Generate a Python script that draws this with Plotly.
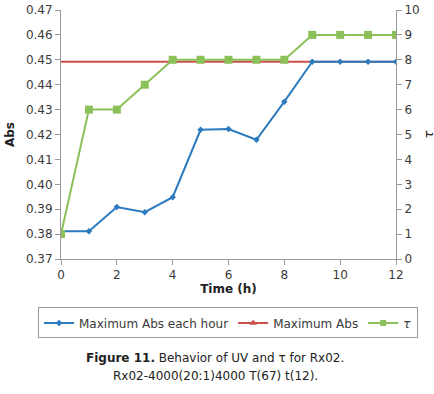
import plotly.graph_objects as go

time_h = [0, 1, 2, 3, 4, 5, 6, 7, 8, 9, 10, 11, 12]
abs_each_hour = [0.3811, 0.3811, 0.3909, 0.3888, 0.3948, 0.4219, 0.4222, 0.4179, 0.4332, 0.4492, 0.4492, 0.4492, 0.4492]
abs_max = [0.4492] * 13
tau = [1, 6, 6, 7, 8, 8, 8, 8, 8, 9, 9, 9, 9]

BLUE = "#2C7BBF"
RED = "#C9504C"
GREEN = "#8CC15A"
FONT = "DejaVu Sans"
TXT = "#3a3a3a"

fig = go.Figure()
fig.add_trace(go.Scatter(x=time_h, y=abs_max, mode="lines", line=dict(color=RED, width=2),
                         showlegend=False, yaxis="y"))
fig.add_trace(go.Scatter(x=time_h, y=tau, mode="lines+markers", name="τ",
                         line=dict(color=GREEN, width=2),
                         marker=dict(symbol="square", size=8, color=GREEN),
                         yaxis="y2", showlegend=False))
fig.add_trace(go.Scatter(x=time_h, y=abs_each_hour, mode="lines+markers", name="Maximum Abs each hour",
                         line=dict(color=BLUE, width=2),
                         marker=dict(symbol="diamond", size=5, color=BLUE), yaxis="y"))
# legend entries
fig.add_trace(go.Scatter(x=[None], y=[None], mode="lines+markers", name="Maximum Abs",
                         line=dict(color=RED, width=2),
                         marker=dict(symbol="triangle-up", size=7, color=RED)))
fig.add_trace(go.Scatter(x=[None], y=[None], mode="lines+markers", name="<i>τ</i>",
                         line=dict(color=GREEN, width=2),
                         marker=dict(symbol="square", size=6, color=GREEN)))

axis_common = dict(showgrid=False, zeroline=False, showline=True, linecolor="#9a9a9a",
                   linewidth=1, ticks="outside", ticklen=5, tickcolor="#9a9a9a",
                   tickfont=dict(family=FONT, size=12, color=TXT))

W, H = 434, 394
L, R, T, B = 61, 38, 10, 134.5
PW = W - L - R
PH = H - T - B
BOT = T + PH  # plot bottom in px


def py(yv):
    return (BOT - yv) / PH


def px(xv):
    return (xv - L) / PW


fig.update_layout(
    width=W, height=H,
    margin=dict(l=L, r=R, t=T, b=B, autoexpand=False),
    paper_bgcolor="white", plot_bgcolor="white",
    font=dict(family=FONT, color=TXT),
    xaxis=dict(range=[0, 12], dtick=2, title=dict(text="<b>Time (h)</b>", font=dict(size=12, color="#222"), standoff=3),
               **axis_common),
    yaxis=dict(range=[0.37, 0.47], dtick=0.01, tickformat=".2f",
               title=dict(text="<b>Abs</b>", font=dict(size=12, color="#222"), standoff=8), **axis_common),
    yaxis2=dict(range=[0, 10], dtick=1, overlaying="y", side="right", **axis_common),
    legend=dict(orientation="h", x=px(38), xanchor="left", y=py(308), yanchor="top",
                bordercolor="#9a9a9a", borderwidth=1, font=dict(family=FONT, size=12, color=TXT),
                itemwidth=30, traceorder="normal", tracegroupgap=0),
    annotations=[
        dict(text="<i>τ</i>", xref="paper", yref="paper", x=px(428), y=0.5,
             xanchor="center", yanchor="middle", textangle=-90, showarrow=False,
             font=dict(family=FONT, size=13, color="#222")),
        dict(text="<b>Figure 11.</b> Behavior of UV and τ for Rx02.",
             xref="paper", yref="paper", x=px(215), y=py(359), xanchor="center", yanchor="middle",
             showarrow=False, font=dict(family=FONT, size=12, color="#222")),
        dict(text="Rx02-4000(20:1)4000 T(67) t(12).",
             xref="paper", yref="paper", x=px(215), y=py(377), xanchor="center", yanchor="middle",
             showarrow=False, font=dict(family=FONT, size=12, color="#222")),
    ],
)

fig.write_html("out.html", config={"displayModeBar": False},
               post_script="document.body.style.margin='0';")
